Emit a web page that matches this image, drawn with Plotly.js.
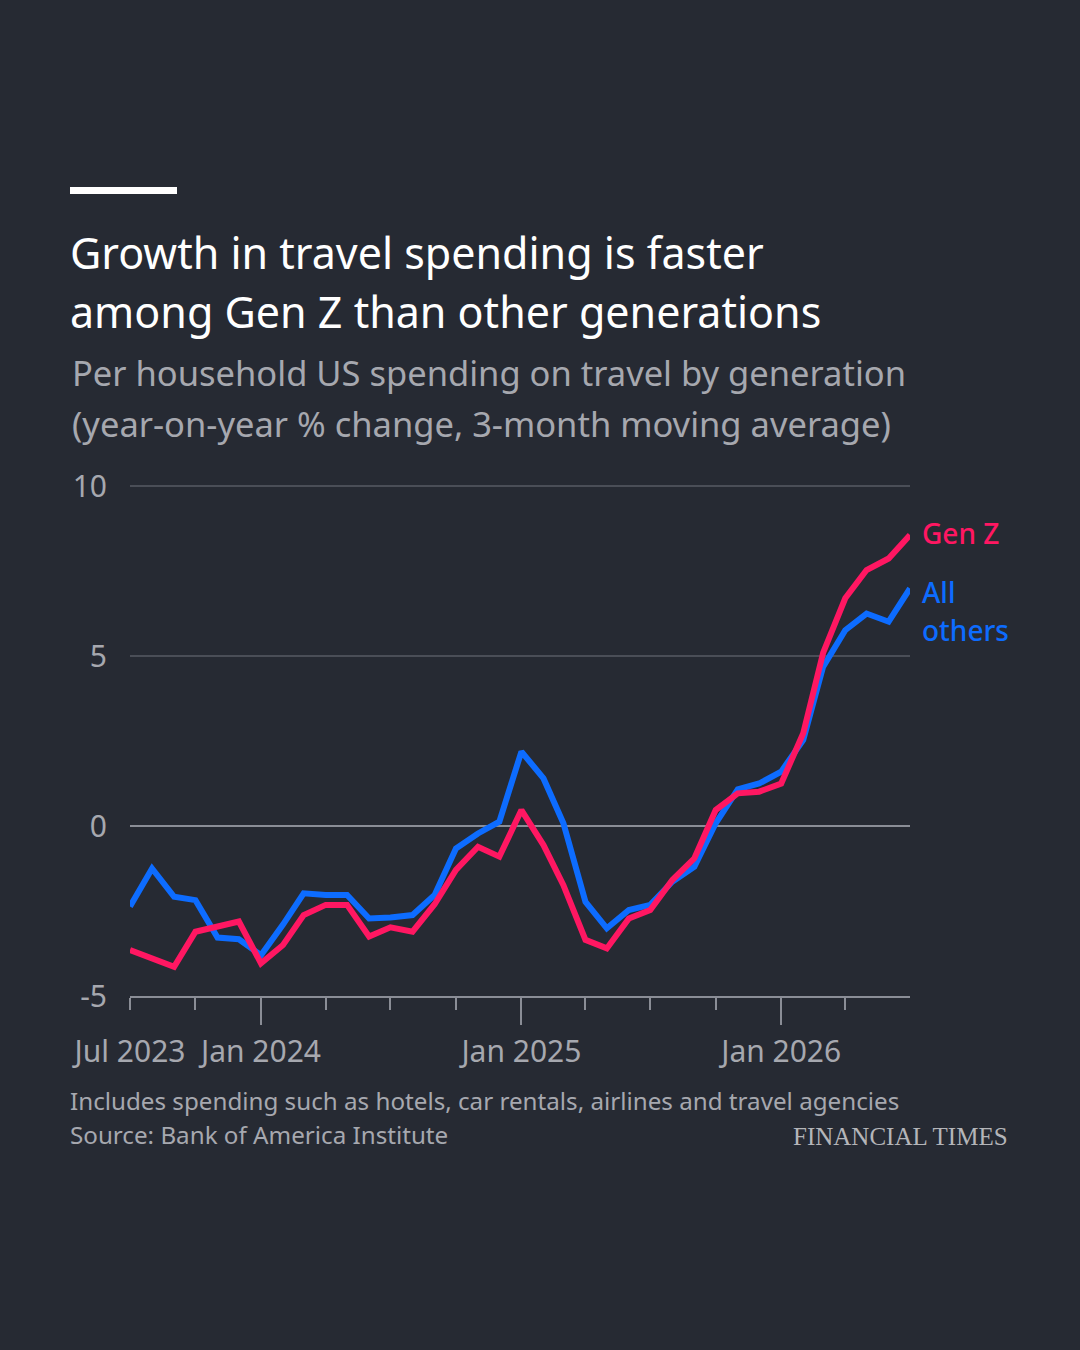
<!DOCTYPE html>
<html>
<head>
<meta charset="utf-8">
<script src="https://cdn.plot.ly/plotly-3.0.1.min.js"></script>
<style>
  html, body { margin: 0; padding: 0; background: #262a33; }
  #chart { width: 1080px; height: 1350px; }
</style>
</head>
<body>
<div id="chart"></div>
<script>
// monthly points, Jul 2023 - Jul 2026
const months = [
  '2023-07','2023-08','2023-09','2023-10','2023-11','2023-12',
  '2024-01','2024-02','2024-03','2024-04','2024-05','2024-06',
  '2024-07','2024-08','2024-09','2024-10','2024-11','2024-12',
  '2025-01','2025-02','2025-03','2025-04','2025-05','2025-06',
  '2025-07','2025-08','2025-09','2025-10','2025-11','2025-12',
  '2026-01','2026-02','2026-03','2026-04','2026-05','2026-06',
  '2026-07'
];
const genZ = [
  -3.65, -3.89, -4.14, -3.11, -2.96, -2.81,
  -4.04, -3.5, -2.62, -2.32, -2.32, -3.25,
  -2.98, -3.11, -2.3, -1.29, -0.61, -0.9,
  0.47, -0.56, -1.74, -3.35, -3.6, -2.72,
  -2.47, -1.59, -0.95, 0.47, 0.96, 1.01,
  1.25, 2.73, 5.1, 6.7, 7.53, 7.87,
  8.56
];
const allOthers = [
  -2.37, -1.25, -2.08, -2.18, -3.28, -3.33,
  -3.8, -2.9, -1.98, -2.03, -2.03, -2.72,
  -2.69, -2.62, -2.03, -0.66, -0.22, 0.13,
  2.19, 1.4, 0.08, -2.23, -3.01, -2.47,
  -2.32, -1.64, -1.2, 0.08, 1.08, 1.25,
  1.6, 2.53, 4.69, 5.76, 6.25, 6.01,
  6.99
];
const quarterTicks = [
  '2023-07-01','2023-10-01','2024-01-01','2024-04-01','2024-07-01','2024-10-01',
  '2025-01-01','2025-04-01','2025-07-01','2025-10-01','2026-01-01','2026-04-01'
];
const quarterLabels = ['Jul 2023','','Jan 2024','','','','Jan 2025','','','','Jan 2026',''];
const yearTicks = ['2024-01-01','2025-01-01','2026-01-01'];
const yTicks = [-5, 0, 5, 10];

const BG = '#262a33';
const RED = '#ff1762';
const BLUE = '#0d6cff';
const GREY = '#a6a8af';
const AXIS = '#8a8d96';
const FONT = 'Noto Sans';

// plot area: 130..910 px wide; y=10 sits at 486 px, y=-5 at 996 px
// (range topped a touch above 10 so the top gridline is still drawn)
const L = 130, R = 910, T = 483, B = 996;
const yRange = [-5, 10.09];
const px = x => (x - L) / (R - L);
const py = y => (B - y) / (B - T);
const xRange = ['2023-07-01', '2026-07-01'];

function note(text, x, y, size, color, opts) {
  return Object.assign({
    text, xref: 'paper', yref: 'paper', x: px(x), y: py(y),
    xanchor: 'left', yanchor: 'middle', showarrow: false,
    font: { family: FONT, size, color },
  }, opts || {});
}

const traces = [
  {
    x: months, y: allOthers, type: 'scatter', mode: 'lines',
    line: { color: BLUE, width: 6 }, xaxis: 'x', yaxis: 'y',
    hoverinfo: 'skip',
  },
  {
    x: months, y: genZ, type: 'scatter', mode: 'lines',
    line: { color: RED, width: 6 }, xaxis: 'x2', yaxis: 'y',
    hoverinfo: 'skip',
  },
];

const layout = {
  width: 1080, height: 1350,
  paper_bgcolor: BG, plot_bgcolor: BG,
  showlegend: false,
  margin: { l: L, r: 1080 - R, t: T, b: 1350 - B, pad: 0 },
  xaxis: {
    type: 'date', range: xRange,
    tickvals: quarterTicks, ticktext: quarterLabels,
    ticks: 'outside', ticklen: 12, tickwidth: 2, tickcolor: AXIS,
    showline: true, linecolor: AXIS, linewidth: 2,
    showgrid: false, zeroline: false,
    ticklabelstandoff: 16,
    tickfont: { family: FONT, size: 30, color: GREY },
  },
  xaxis2: {
    type: 'date', range: xRange, overlaying: 'x', anchor: 'y', side: 'bottom',
    tickvals: yearTicks, ticks: 'outside', ticklen: 28, tickwidth: 2, tickcolor: AXIS,
    showticklabels: false, showline: false, showgrid: false, zeroline: false,
  },
  yaxis: {
    range: yRange, tickvals: yTicks, ticktext: yTicks.map(String),
    ticks: '', showline: false,
    showgrid: true, gridcolor: '#4a4e57', gridwidth: 1.5,
    zeroline: true, zerolinecolor: AXIS, zerolinewidth: 2,
    ticklabelstandoff: 22,
    tickfont: { family: FONT, size: 30, color: GREY },
  },
  shapes: [
    { type: 'rect', xref: 'paper', yref: 'paper',
      x0: px(70), x1: px(177), y0: py(194), y1: py(187),
      fillcolor: '#ffffff', line: { width: 0 } },
  ],
  annotations: [
    note('Growth in travel spending is faster', 68, 253, 43, '#ffffff'),
    note('among Gen Z than other generations', 68, 311, 43, '#ffffff'),
    note('Per household US spending on travel by generation', 70, 372, 34.5, GREY),
    note('(year-on-year % change, 3-month moving average)', 70, 423, 34.5, GREY),
    note('Gen Z', 920, 533, 28, RED, { font: { family: FONT, size: 28, color: RED, weight: 500 } }),
    note('All', 920, 592, 28, BLUE, { font: { family: FONT, size: 28, color: BLUE, weight: 500 } }),
    note('others', 920, 630, 28, BLUE, { font: { family: FONT, size: 28, color: BLUE, weight: 500 } }),
    note('Includes spending such as hotels, car rentals, airlines and travel agencies', 68, 1100, 24.2, GREY),
    note('Source: Bank of America Institute', 68, 1134, 24.2, GREY),
    note('FINANCIAL TIMES', 1010, 1136, 25, '#b4b5b9',
      { xanchor: 'right', font: { family: 'Liberation Serif', size: 25, color: '#b4b5b9' } }),
  ],
};

Plotly.newPlot('chart', traces, layout, { staticPlot: true, displayModeBar: false });
</script>
</body>
</html>
